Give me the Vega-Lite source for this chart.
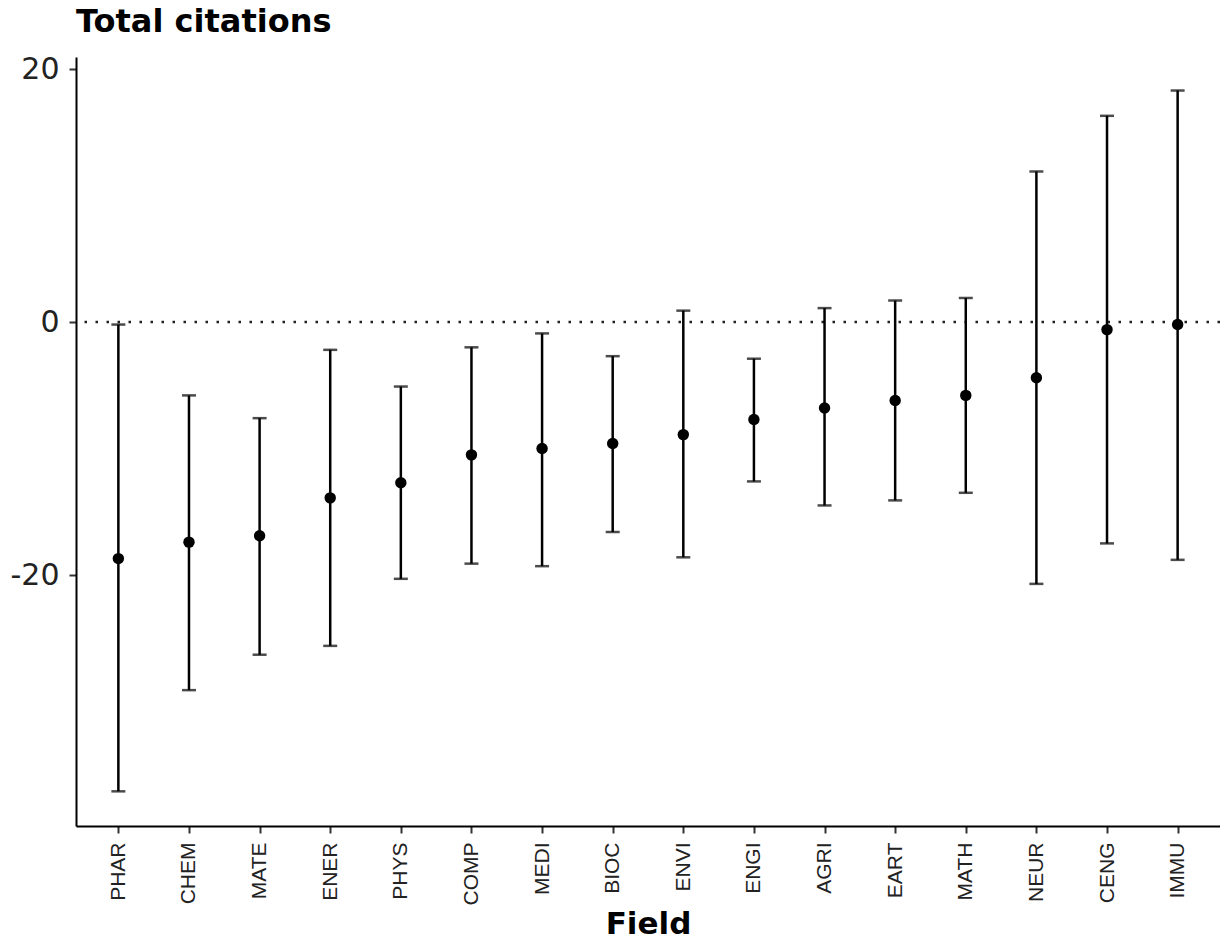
{
  "$schema": "https://vega.github.io/schema/vega-lite/v6.json",
  "width": 1144,
  "height": 769,
  "autosize": "none",
  "padding": {"left": 76, "top": 57, "right": 0, "bottom": 113},
  "background": "white",
  "title": {"text": "Total citations", "anchor": "start", "frame": "group", "font": "DejaVu Sans", "fontSize": 32, "fontWeight": "bold", "color": "black", "offset": 15},
  "config": {"view": {"stroke": null}},
  "data": {"values": [
    {"field": "PHAR", "est": -18.7, "lo": -37.1, "hi": -0.2},
    {"field": "CHEM", "est": -17.4, "lo": -29.1, "hi": -5.8},
    {"field": "MATE", "est": -16.9, "lo": -26.3, "hi": -7.6},
    {"field": "ENER", "est": -13.9, "lo": -25.6, "hi": -2.2},
    {"field": "PHYS", "est": -12.7, "lo": -20.3, "hi": -5.1},
    {"field": "COMP", "est": -10.5, "lo": -19.1, "hi": -2.0},
    {"field": "MEDI", "est": -10.0, "lo": -19.3, "hi": -0.9},
    {"field": "BIOC", "est": -9.6, "lo": -16.6, "hi": -2.7},
    {"field": "ENVI", "est": -8.9, "lo": -18.6, "hi": 0.9},
    {"field": "ENGI", "est": -7.7, "lo": -12.6, "hi": -2.9},
    {"field": "AGRI", "est": -6.8, "lo": -14.5, "hi": 1.1},
    {"field": "EART", "est": -6.2, "lo": -14.1, "hi": 1.7},
    {"field": "MATH", "est": -5.8, "lo": -13.5, "hi": 1.9},
    {"field": "NEUR", "est": -4.4, "lo": -20.7, "hi": 11.9},
    {"field": "CENG", "est": -0.6, "lo": -17.5, "hi": 16.3},
    {"field": "IMMU", "est": -0.2, "lo": -18.8, "hi": 18.3}
  ]},
  "encoding": {
    "x": {"field": "field", "type": "nominal", "sort": null,
      "scale": {"type": "point", "padding": 0.6},
      "axis": {"title": "Field", "titleFont": "DejaVu Sans", "titleFontSize": 31, "titleFontWeight": "bold", "titleColor": "black", "titleBaseline": "alphabetic", "titleY": 107,
        "labelAngle": 270, "labelAlign": "right", "labelBaseline": "middle", "labelFont": "Liberation Sans", "labelFontSize": 21, "labelColor": "#222", "labelPadding": 9,
        "domainColor": "black", "domainWidth": 2, "tickColor": "#333", "tickWidth": 2, "tickSize": 7, "grid": false}
    }
  },
  "layer": [
    {
      "data": {"values": [{"z": 0}]},
      "mark": {"type": "rule", "strokeDash": [2.5, 8.5], "strokeWidth": 2.5, "color": "#222"},
      "encoding": {"y": {"field": "z", "type": "quantitative"}, "x": null}
    },
    {
      "mark": {"type": "rule", "strokeWidth": 2.5, "color": "black"},
      "encoding": {
        "y": {"field": "lo", "type": "quantitative",
          "scale": {"domain": [-39.84, 20.95], "nice": false, "zero": false},
          "axis": {"title": null, "values": [-20, 0, 20], "labelExpr": "datum.value < 0 ? '-' + abs(datum.value) : '' + datum.value", "labelFont": "DejaVu Sans", "labelFontSize": 30, "labelColor": "#222", "labelPadding": 10,
            "domainColor": "black", "domainWidth": 2, "tickColor": "#333", "tickWidth": 2, "tickSize": 7, "grid": false}},
        "y2": {"field": "hi"}
      }
    },
    {
      "mark": {"type": "tick", "size": 14, "thickness": 2.5, "color": "black", "orient": "horizontal"},
      "encoding": {"y": {"field": "lo", "type": "quantitative"}}
    },
    {
      "mark": {"type": "tick", "size": 14, "thickness": 2.5, "color": "black", "orient": "horizontal"},
      "encoding": {"y": {"field": "hi", "type": "quantitative"}}
    },
    {
      "mark": {"type": "point", "filled": true, "size": 130, "color": "black", "opacity": 1},
      "encoding": {"y": {"field": "est", "type": "quantitative"}}
    }
  ]
}
